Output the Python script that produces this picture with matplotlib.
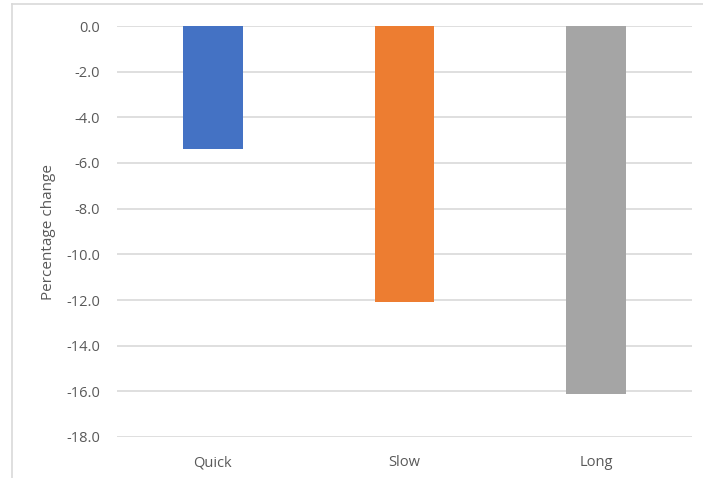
import matplotlib
matplotlib.use("Agg")
import matplotlib.pyplot as plt
from matplotlib.lines import Line2D

# data
categories = ["Quick", "Slow", "Long"]
values = [-5.4, -12.1, -16.1]
bar_colors = ["#4472C4", "#ED7D31", "#A5A5A5"]
yticks = [0, -2, -4, -6, -8, -10, -12, -14, -16, -18]

plt.rcParams['font.family'] = ['Open Sans', 'DejaVu Sans']

fig = plt.figure(figsize=(7.03, 4.78), dpi=100)
ax = fig.add_axes([117/703, 1 - 437/478, (692-117)/703, (437-26)/478])

x = range(len(categories))
ax.bar(x, values, width=0.31, color=bar_colors, zorder=3)

ax.set_xlim(-0.5, len(categories) - 0.5)
ax.set_ylim(-18, 0)
ax.set_yticks(yticks)
ax.set_yticklabels([f"{v:.1f}" for v in yticks])
ax.set_xticks(list(x))
ax.set_xticklabels(categories)

ax.grid(axis='y', color='#D9D9D9', linewidth=1.2, zorder=0)
for s in ax.spines.values():
    s.set_visible(False)
ax.tick_params(axis='both', length=0, labelsize=10.5, colors='#595959')
ax.tick_params(axis='y', pad=12)
ax.tick_params(axis='x', pad=13)
ax.set_ylabel("Percentage change", fontsize=11, color='#595959')
ax.yaxis.set_label_coords(-(117-56)/575, 0.5)

# chart area border (only top and left visible in the crop)
fig.add_artist(Line2D([12/703, 12/703], [0, 1 - 4/478], transform=fig.transFigure,
                      color='#D9D9D9', linewidth=1.2))
fig.add_artist(Line2D([12/703, 1], [1 - 4/478, 1 - 4/478], transform=fig.transFigure,
                      color='#D9D9D9', linewidth=1.2))

fig.savefig("out.png", dpi=100)
